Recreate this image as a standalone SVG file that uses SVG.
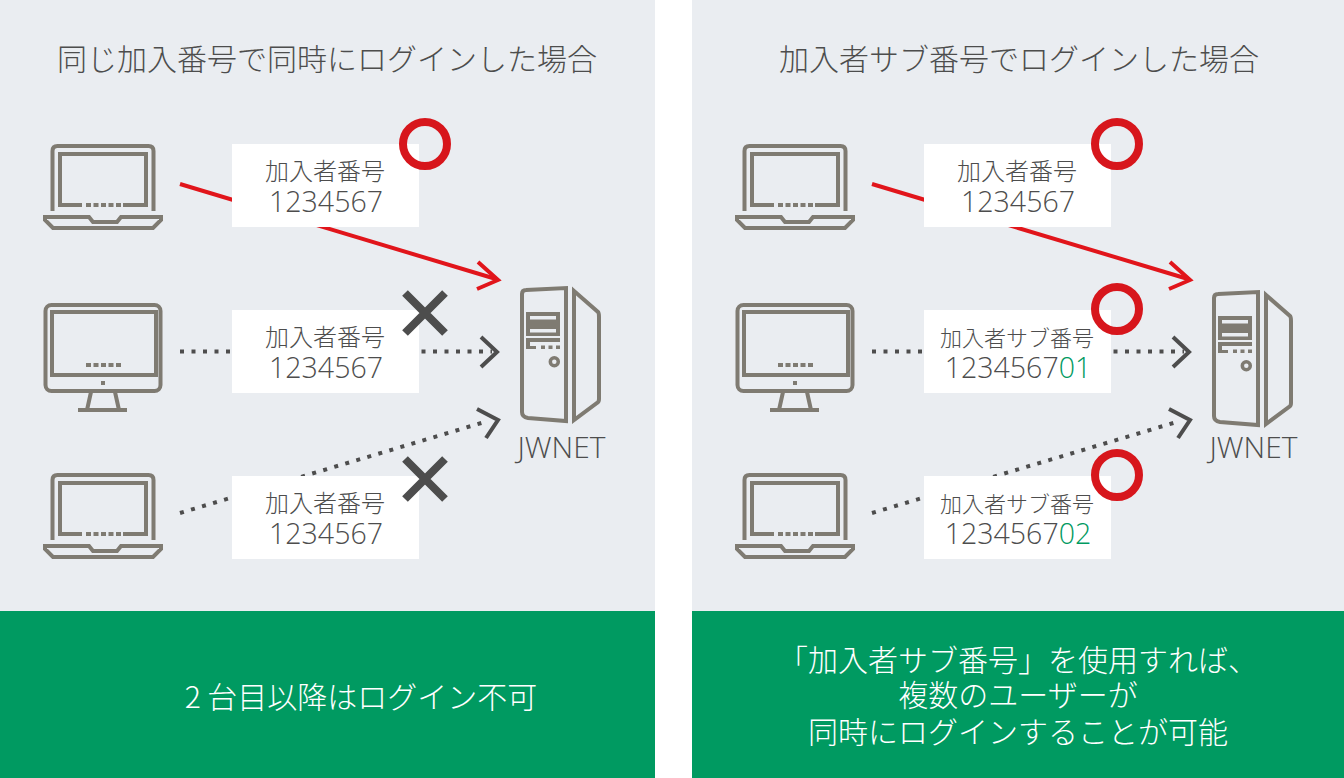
<svg xmlns="http://www.w3.org/2000/svg" width="1344" height="778" viewBox="0 0 1344 778">
<style>
text{font-family:"Noto Sans CJK JP","Noto Sans",sans-serif;font-weight:300;fill:#4d4d4d;text-anchor:middle}
.t{font-size:30px}.l{font-size:24px}.n{font-size:28.500px;font-family:"Open Sans","Noto Sans CJK JP",sans-serif;font-weight:300}
.w{font-size:30px}
.s{font-size:22px}
.g{font-size:30px;fill:#fff}
.i{fill:none;stroke:#7f7b72;stroke-width:4}
.d{fill:#7f7b72}
.r{stroke:#e1151b;stroke-width:4;fill:none}
.k{stroke:#4d4d4d;stroke-width:4;fill:none}
.o{stroke:#4d4d4d;stroke-width:4;stroke-dasharray:4 7.500;fill:none}
.c{fill:none;stroke:#d7161c;stroke-width:8}
.x{stroke:#4d4d4d;stroke-width:8;fill:none}
.b{fill:#fff}.h{fill:#009a61}.p{fill:#eaedf1}
.e{fill:#009a61}
</style>
<defs>
<g id="laptop">
<path class="i" d="M52.500 211V151q0-5 5-5h91q5 0 5 5V211"/>
<path class="i" d="M82 205H60V154H146V205H123"/>
<path class="d" d="M86 203h5v4h-5zM93.500 203h5v4h-5zM101 203h5v4h-5zM108.500 203h5v4h-5zM116 203h5v4h-5z"/>
<path class="i" d="M45 217H89l4 5H117l4-5H161V220L153 228H53L45 220Z"/>
</g>
<g id="server">
<path class="i" d="M522 294q0-4 4-4L566 288V421L528 418q-6-1-6-6Z"/>
<path class="i" d="M574 291L598 312q1 1 1 5V399q0 3-2 4L574 420Z"/>
<path class="d" fill-rule="evenodd" d="M526 312h34v24h-34zM530 316v3.500h26v-3.500zM530 329v3.500h26v-3.500z"/>
<path class="d" d="M526 338h34v4h-30v4h6v3h-10zM541 345.500h4v3.500h-4zM548.500 345.500h4v3.500h-4zM556 345.500h4v3.500h-4z"/>
<circle fill="none" stroke="#7f7b72" stroke-width="3.500" cx="554.300" cy="361.700" r="4"/>
</g>
<g id="desktop">
<rect class="i" x="45.500" y="305" width="115" height="86" rx="6"/>
<rect class="i" x="52" y="312" width="104" height="63"/>
<path class="d" d="M86 363h5v4h-5zM93.500 363h5v4h-5zM101 363h5v4h-5zM108.500 363h5v4h-5zM116 363h5v4h-5zM101 381h4v4h-4z"/>
<path class="i" d="M91 392L87 410M115 392L119 410M78 410H127"/>
</g>
</defs>
<rect class="p" x="0" y="0" width="655" height="611"/>
<rect class="p" x="692" y="0" width="652" height="611"/>
<rect class="h" x="0" y="611" width="655" height="167"/>
<rect class="h" x="692" y="611" width="652" height="167"/>
<g id="connectors">
<path class="r" d="M180 184L496 279"/><path class="r" d="M478 262L498 280L477 289"/>
<path class="o" d="M180 351.500H492"/><path class="k" d="M481 337L497 352L481 367"/>
<path class="o" d="M180 513L488 421"/><path class="k" d="M477 409L498 420L486 438"/>
<path class="r" d="M872 184L1188 279"/><path class="r" d="M1170 262L1190 280L1169 289"/>
<path class="o" d="M872 351.500H1184"/><path class="k" d="M1173 337L1189 352L1173 367"/>
<path class="o" d="M872 513L1180 421"/><path class="k" d="M1169 409L1190 420L1178 438"/>
</g>
<g id="left-title"><text class="t" x="327" y="70">同じ加入番号で同時にログインした場合</text></g>
<g id="right-title"><text class="t" x="1019" y="70">加入者サブ番号でログインした場合</text></g>
<g id="left-pc1"><use href="#laptop"/></g>
<g id="left-pc2"><use href="#desktop"/></g>
<g id="left-pc3"><use href="#laptop" y="329"/></g>
<g id="left-label1"><rect class="b" x="232" y="144" width="187" height="83"/><text class="l" x="325" y="180">加入者番号</text><text class="n" x="326" y="212">1234567</text></g>
<g id="left-label2"><rect class="b" x="232" y="310" width="187" height="83"/><text class="l" x="325" y="346">加入者番号</text><text class="n" x="326" y="378">1234567</text></g>
<g id="left-label3"><rect class="b" x="232" y="476" width="187" height="83"/><text class="l" x="325" y="512">加入者番号</text><text class="n" x="326" y="544">1234567</text></g>
<g id="left-ok"><circle class="c" cx="425" cy="144" r="22"/></g>
<g id="left-ng1"><path class="x" d="M405 293L445 333M445 293L405 333"/></g>
<g id="left-ng2"><path class="x" d="M405 459L445 499M445 459L405 499"/></g>
<g id="left-server"><use href="#server"/><text class="n w" x="561.500" y="458">JWNET</text></g>
<g id="left-result"><text class="g" x="361" y="708">2 台目以降はログイン不可</text></g>
<g id="right-pc1"><use href="#laptop" x="692"/></g>
<g id="right-pc2"><use href="#desktop" x="692"/></g>
<g id="right-pc3"><use href="#laptop" x="692" y="329"/></g>
<g id="right-label1"><rect class="b" x="924" y="144" width="187" height="83"/><text class="l" x="1017" y="180">加入者番号</text><text class="n" x="1018" y="212">1234567</text></g>
<g id="right-label2"><rect class="b" x="924" y="310" width="187" height="83"/><text class="s" x="1017" y="346">加入者サブ番号</text><text class="n" x="1018" y="378">1234567<tspan class="e">01</tspan></text></g>
<g id="right-label3"><rect class="b" x="924" y="476" width="187" height="83"/><text class="s" x="1017" y="512">加入者サブ番号</text><text class="n" x="1018" y="544">1234567<tspan class="e">02</tspan></text></g>
<g id="right-ok1"><circle class="c" cx="1117" cy="144" r="22"/></g>
<g id="right-ok2"><circle class="c" cx="1117" cy="309" r="22"/></g>
<g id="right-ok3"><circle class="c" cx="1117" cy="475" r="22"/></g>
<g id="right-server"><use href="#server" x="692" y="4"/><text class="n w" x="1253.500" y="458">JWNET</text></g>
<g id="right-result"><text class="g" x="1018" y="671">「加入者サブ番号」を使用すれば、</text><text class="g" x="1018" y="706">複数のユーザーが</text><text class="g" x="1018" y="743">同時にログインすることが可能</text></g>
</svg>
